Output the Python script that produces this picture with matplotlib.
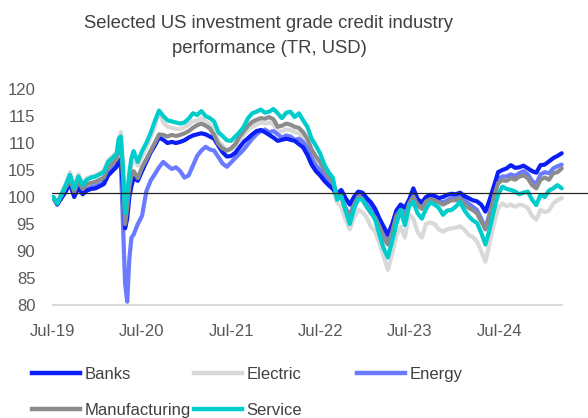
import numpy as np
import matplotlib
matplotlib.use("Agg")
from matplotlib import pyplot as plt
from matplotlib.lines import Line2D

plt.rcParams["font.family"] = ["Liberation Sans", "DejaVu Sans"]

# meses desde Jul-19, duas leituras por mes (mais pontos na queda de Mar-20)
meses = np.sort(np.concatenate([np.arange(0, 60.5, 0.5), [7.75, 8.25, 8.75, 9.25]]))

banks = [
    100.0, 98.6, 99.8, 101.0, 102.5, 100.0, 101.8, 100.5, 101.2, 101.5, 101.6, 102.0, 102.4, 104.0, 104.8, 105.6,
    106.5, 107.0, 101.5, 94.2, 96.0, 100.0, 102.0,
    103.5, 103.0, 104.8, 106.5, 108.2, 109.5, 111.0, 110.6, 110.0, 110.2, 110.0, 110.2, 110.5, 111.0, 111.4, 111.6, 111.8, 111.6, 111.2, 110.8, 109.5,
    108.3, 107.5, 107.6, 108.2, 109.2, 110.2, 110.9, 111.6, 112.2, 112.4, 112.0, 111.5, 111.0, 110.4, 110.6, 110.8, 110.6, 110.4, 109.8, 109.2,
    107.8, 106.0, 104.8, 104.0, 103.0, 102.2, 101.5, 100.6, 101.3, 99.8, 98.6, 100.0, 101.0, 100.8, 99.8, 99.0, 97.8, 96.0, 94.5, 93.0,
    95.0, 97.5, 98.6, 98.0, 99.5, 101.6, 99.6, 99.0, 100.0, 100.4, 100.2, 99.8, 100.0, 100.4, 100.6, 100.5, 100.8, 100.2, 99.8, 99.4,
    99.2, 98.6, 97.3, 99.5, 102.0, 104.6, 105.0, 105.3, 105.9, 105.4, 105.5, 105.8, 105.3, 104.8, 104.5, 105.9, 106.0, 106.6, 107.2, 107.6, 108.1,
]
electric = [
    100.0, 98.6, 100.8, 102.5, 104.6, 102.0, 104.2, 102.5, 103.5, 103.8, 104.0, 104.4, 104.9, 106.8, 107.5, 108.3,
    110.5, 112.0, 105.5, 96.0, 99.5, 103.5, 106.0,
    107.0, 105.8, 107.5, 109.2, 111.0, 113.0, 115.8, 113.8, 113.0, 112.8, 112.6, 112.6, 112.9, 113.4, 114.0, 114.2, 114.6, 114.0, 113.4, 112.3, 110.5,
    109.5, 108.6, 108.8, 109.4, 110.5, 111.5, 112.4, 113.0, 113.4, 113.8, 113.6, 113.8, 113.5, 112.0, 112.2, 112.5, 112.4, 112.0, 111.8, 111.0,
    110.0, 107.8, 106.5, 105.2, 103.8, 102.6, 101.5, 99.0, 98.2, 95.8, 94.0, 96.2, 97.6, 97.2, 96.2, 94.5, 93.6, 91.5, 89.0, 86.5,
    89.5, 92.8, 94.5, 92.5, 96.8, 96.0, 93.5, 92.5, 95.0, 95.3, 95.0, 94.0, 93.6, 94.0, 94.2, 94.3, 94.6, 94.0, 93.0, 92.6,
    91.8, 90.0, 88.0, 91.5, 95.0, 98.0, 98.8, 98.3, 98.6, 98.2, 98.6, 98.4, 98.0, 96.5, 95.8, 97.6, 97.2, 97.5, 98.8, 99.4, 99.8,
]
energy = [
    100.0, 98.7, 100.0, 101.3, 102.8, 100.3, 102.0, 100.8, 101.5, 101.8, 102.0, 102.3, 102.8, 104.4, 105.2, 106.0,
    106.5, 106.0, 95.0, 84.0, 80.6, 88.5, 92.5,
    93.0, 95.0, 96.5, 101.0, 103.0, 104.2, 105.5, 106.5, 105.8, 105.2, 105.5, 104.8, 103.6, 104.0, 105.8, 107.6, 108.6, 109.3, 108.8, 108.6, 107.4,
    106.2, 105.6, 106.4, 107.2, 108.0, 108.8, 109.8, 110.8, 111.6, 112.2, 112.5, 112.0, 112.2, 111.6, 111.0, 111.4, 111.2, 110.6, 110.8, 110.2,
    109.0, 107.2, 105.8, 105.0, 103.8, 102.8, 101.8, 100.0, 100.3, 98.0, 96.5, 98.8, 100.2, 100.0, 98.8, 97.8, 96.8, 95.0, 93.0, 91.6,
    93.8, 96.6, 97.8, 96.5, 99.0, 100.6, 98.8, 98.2, 99.4, 99.8, 99.6, 99.2, 99.0, 99.4, 99.8, 99.8, 100.2, 99.4, 98.8, 98.2,
    97.6, 96.0, 94.2, 97.0, 100.6, 103.2, 103.8, 103.8, 104.2, 103.9, 104.4, 104.8, 104.2, 103.0, 102.4, 104.2, 104.6, 104.4, 105.3, 105.7, 106.0,
]
manufacturing = [
    100.0, 98.8, 100.3, 101.8, 103.2, 101.0, 103.0, 101.5, 102.4, 102.6, 102.8, 103.2, 103.6, 105.5, 106.2, 107.0,
    109.5, 109.8, 104.0, 95.0, 98.0, 102.0, 104.0,
    104.8, 103.5, 105.5, 107.0, 108.5, 110.0, 111.6, 111.5, 111.2, 111.5, 111.3, 111.5, 111.8, 112.2, 112.8, 113.3, 113.6, 113.2, 112.7, 111.5, 109.8,
    109.0, 108.6, 109.0, 109.8, 111.2, 112.2, 113.2, 113.9, 114.3, 114.6, 114.5, 114.8, 114.4, 113.0, 113.2, 113.6, 113.4, 113.0, 112.8, 112.0,
    110.8, 108.8, 107.5, 106.5, 105.0, 103.8, 102.8, 100.3, 100.0, 97.6, 96.4, 98.5, 100.1, 99.6, 98.2, 97.0, 96.2, 94.5, 92.4, 91.2,
    93.5, 96.5, 97.6, 96.0, 98.8, 100.1, 98.5, 97.8, 99.2, 99.6, 99.4, 99.0, 98.6, 99.0, 99.4, 99.4, 99.7, 98.8, 98.0, 97.6,
    97.0, 95.5, 94.0, 96.5, 100.0, 102.6, 103.1, 103.0, 103.5, 103.2, 103.8, 104.0, 103.5, 102.2, 101.6, 103.2, 103.6, 103.2, 104.4, 104.6, 105.3,
]
service = [
    100.0, 98.8, 100.5, 102.2, 104.1, 101.6, 103.8, 102.2, 103.2, 103.6, 103.8, 104.2, 104.6, 106.5, 107.2, 108.0,
    110.8, 111.2, 105.4, 97.0, 100.5, 104.5, 107.2,
    108.5, 106.5, 108.5, 110.0, 111.8, 114.0, 116.0, 115.0, 114.2, 114.0, 113.8, 113.6, 113.8, 114.5, 115.5, 115.2, 115.9, 115.0, 114.6, 114.0, 112.0,
    111.3, 110.5, 110.4, 111.2, 112.0, 113.0, 114.6, 115.5, 115.8, 116.2, 115.6, 115.8, 116.3, 115.5, 114.6, 115.6, 115.8, 114.8, 115.5, 114.2,
    113.0, 110.8, 109.5, 108.1, 106.0, 104.6, 103.6, 99.5, 100.2, 97.5, 95.0, 97.8, 99.6, 99.5, 98.2, 97.2, 95.8, 93.0, 90.5, 88.8,
    91.8, 95.0, 97.6, 94.8, 98.3, 99.1, 97.0, 96.0, 97.8, 99.0, 98.6, 98.0, 96.7, 97.5, 97.6, 98.2, 99.1, 97.6, 96.5, 95.7,
    95.2, 93.4, 91.2, 94.0, 97.5, 100.5, 101.9, 101.5, 101.3, 101.0, 100.5, 100.8, 101.0, 99.5, 98.5, 100.4, 100.0, 101.2, 101.6, 102.2, 101.6,
]

rotulos_x = ["Jul-19", "Jul-20", "Jul-21", "Jul-22", "Jul-23", "Jul-24"]
nivel_ref = 100.7

series = [
    ("Electric", electric, "#D9D9D9"),
    ("Energy", energy, "#6B7BFF"),
    ("Banks", banks, "#0A1EF5"),
    ("Manufacturing", manufacturing, "#8C8C8C"),
    ("Service", service, "#00CCCC"),
]

fig = plt.figure(figsize=(5.88, 4.18), dpi=100)
ax = fig.add_axes([52 / 588, 113 / 418, 536 / 588, 216 / 418])

linhas = {}
for nome, valores, cor in series:
    (ln,) = ax.plot(meses, valores, color=cor, lw=3.0, solid_capstyle="round", label=nome)
    linhas[nome] = ln

ax.axhline(nivel_ref, color="#262626", lw=0.9, zorder=5)

ax.set_ylim(80, 120)
ax.set_xlim(-0.12, 63.1)
ax.set_yticks(range(80, 121, 5))
ax.set_xticks(np.arange(6) * 10.55 - 0.1)
ax.set_xticklabels(rotulos_x)
ax.tick_params(axis="both", length=0, labelsize=12, colors="#595959")
ax.tick_params(axis="y", pad=12)
ax.tick_params(axis="x", pad=14)

for lado in ["top", "right", "left"]:
    ax.spines[lado].set_visible(False)
ax.spines["bottom"].set_color("#D9D9D9")
ax.spines["bottom"].set_linewidth(1.5)
ax.spines["bottom"].set_bounds(0, 60)

fig.text(269 / 588, 1 - 36 / 418,
         "Selected US investment grade credit industry\nperformance (TR, USD)",
         ha="center", va="center", fontsize=13.3, color="#404040", linespacing=1.6)

# legenda em colunas fixas, como no original
colunas = [(["Banks", "Manufacturing"], 32), (["Electric", "Service"], 194), (["Energy"], 357)]
for nomes, x0 in colunas:
    handles = [Line2D([], [], color=linhas[n].get_color(), lw=3.2) for n in nomes]
    fig.legend(handles, nomes, loc="upper left", bbox_to_anchor=(x0 / 588, 1 - 367 / 418),
               frameon=False, fontsize=12, handlelength=2.9, handletextpad=0.25,
               labelspacing=1.25, borderpad=0, borderaxespad=0, labelcolor="#404040")

fig.savefig("out.png", dpi=100)
